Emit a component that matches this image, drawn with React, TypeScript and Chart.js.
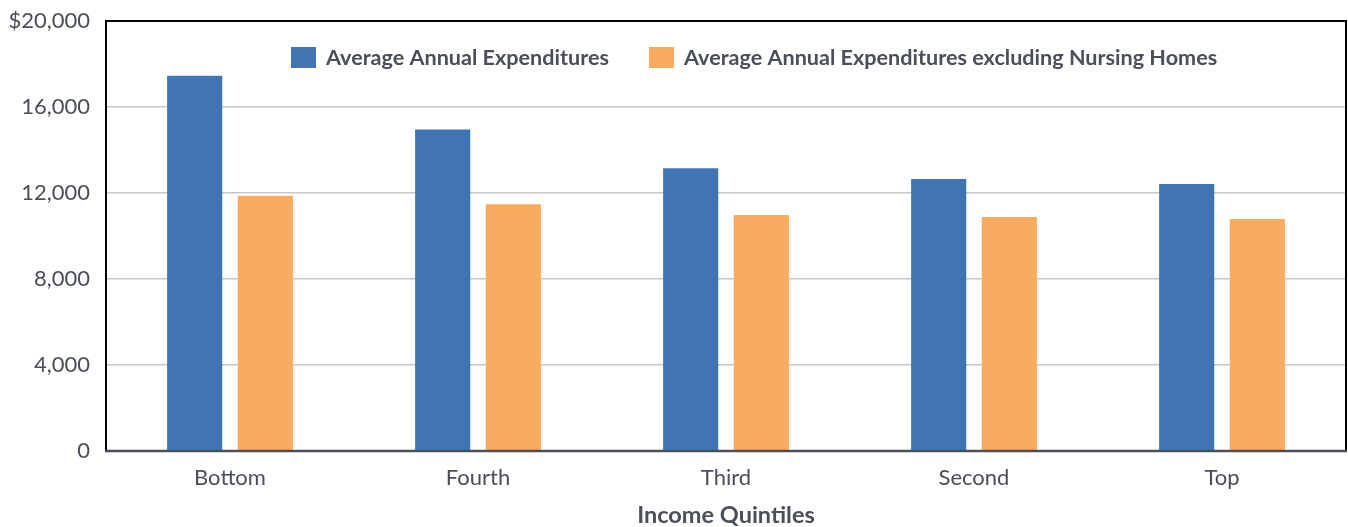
import React, { useEffect, useRef } from "react";
import { Chart, registerables } from "chart.js";

Chart.register(...registerables);

const categories = ["Bottom", "Fourth", "Third", "Second", "Top"];
const avgExpenditures = [17450, 14950, 13150, 12650, 12420];
const avgExclNursing = [11870, 11480, 10980, 10880, 10790];
const seriesLabels = [
  "Average Annual Expenditures",
  "Average Annual Expenditures excluding Nursing Homes",
];
const yTicks = [0, 4000, 8000, 12000, 16000, 20000];
const xTitle = "Income Quintiles";

const BLUE = "#4174b5";
const ORANGE = "#f9ab5f";
const TEXT = "#4b4f57";
const FONT = "Lato";

const framePlugin = {
  id: "frame",
  afterDatasetsDraw(chart: any) {
    const { ctx, chartArea: a } = chart;
    ctx.save();
    ctx.strokeStyle = "#000";
    ctx.lineWidth = 2;
    ctx.beginPath();
    ctx.moveTo(a.left, a.bottom);
    ctx.lineTo(a.left, a.top);
    ctx.lineTo(a.right, a.top);
    ctx.lineTo(a.right, a.bottom);
    ctx.stroke();
    ctx.strokeStyle = "#4b4f57";
    ctx.lineWidth = 2.5;
    ctx.beginPath();
    ctx.moveTo(a.left - 1, a.bottom);
    ctx.lineTo(a.right + 1, a.bottom);
    ctx.stroke();
    ctx.restore();
  },
};

const legendPlugin = {
  id: "innerLegend",
  afterDraw(chart: any) {
    const { ctx } = chart;
    ctx.save();
    ctx.font = `bold 21.6px ${FONT}`;
    ctx.textBaseline = "middle";
    ctx.textAlign = "left";
    const y = 58;
    const box = 25;
    let x = 291;
    chart.data.datasets.forEach((ds: any) => {
      ctx.fillStyle = ds.backgroundColor;
      ctx.fillRect(x, y - 11, box, 21);
      ctx.fillStyle = TEXT;
      ctx.fillText(ds.label, x + box + 10, y);
      const w = ctx.measureText(ds.label).width;
      x = x + box + 10 + w + 40;
    });
    ctx.restore();
  },
};

export default function App() {
  const ref = useRef<HTMLCanvasElement>(null);
  useEffect(() => {
    document.body.style.margin = "0";
    const chart = new Chart(ref.current!, {
      type: "bar",
      data: {
        labels: categories,
        datasets: [
          {
            label: seriesLabels[0],
            data: avgExpenditures,
            backgroundColor: BLUE,
            categoryPercentage: 0.57,
            barPercentage: 0.78,
          },
          {
            label: seriesLabels[1],
            data: avgExclNursing,
            backgroundColor: ORANGE,
            categoryPercentage: 0.57,
            barPercentage: 0.78,
          },
        ],
      },
      options: {
        animation: false,
        responsive: false,
        layout: { padding: { top: 21, right: 2, left: 0, bottom: 0 } },
        plugins: {
          legend: { display: false },
          tooltip: { enabled: false },
        },
        scales: {
          x: {
            grid: { display: false, drawTicks: false },
            border: { display: false },
            ticks: {
              color: TEXT,
              font: { family: FONT, size: 22 },
              padding: 14,
            },
            title: {
              display: true,
              text: xTitle,
              color: TEXT,
              font: { family: FONT, size: 23.5, weight: "bold", lineHeight: 1 },
              padding: { top: 0, bottom: 0 },
            },
            afterFit(scale: any) {
              scale.height = 76;
              scale.paddingLeft = 0;
              scale.paddingRight = 0;
            },
          },
          y: {
            min: 0,
            max: 20000,
            afterBuildTicks(scale: any) {
              scale.ticks = yTicks.map((v) => ({ value: v }));
            },
            grid: {
              color: (c: any) =>
                c.tick && c.tick.value > 0 && c.tick.value < 20000
                  ? "#c8c8c8"
                  : "rgba(0,0,0,0)",
              lineWidth: 1.5,
              drawTicks: false,
            },
            border: { display: false },
            ticks: {
              color: TEXT,
              font: { family: FONT, size: 22 },
              padding: 16,
              callback: (v: any) =>
                v === 20000
                  ? "$" + Number(v).toLocaleString("en-US")
                  : Number(v).toLocaleString("en-US"),
            },
            afterFit(scale: any) {
              scale.width = 106;
              scale.paddingTop = 0;
              scale.paddingBottom = 0;
            },
          },
        },
      },
      plugins: [framePlugin, legendPlugin],
    });
    return () => chart.destroy();
  }, []);
  return (
    <div style={{ width: 1348, height: 527 }}>
      <canvas ref={ref} width={1348} height={527} />
    </div>
  );
}
